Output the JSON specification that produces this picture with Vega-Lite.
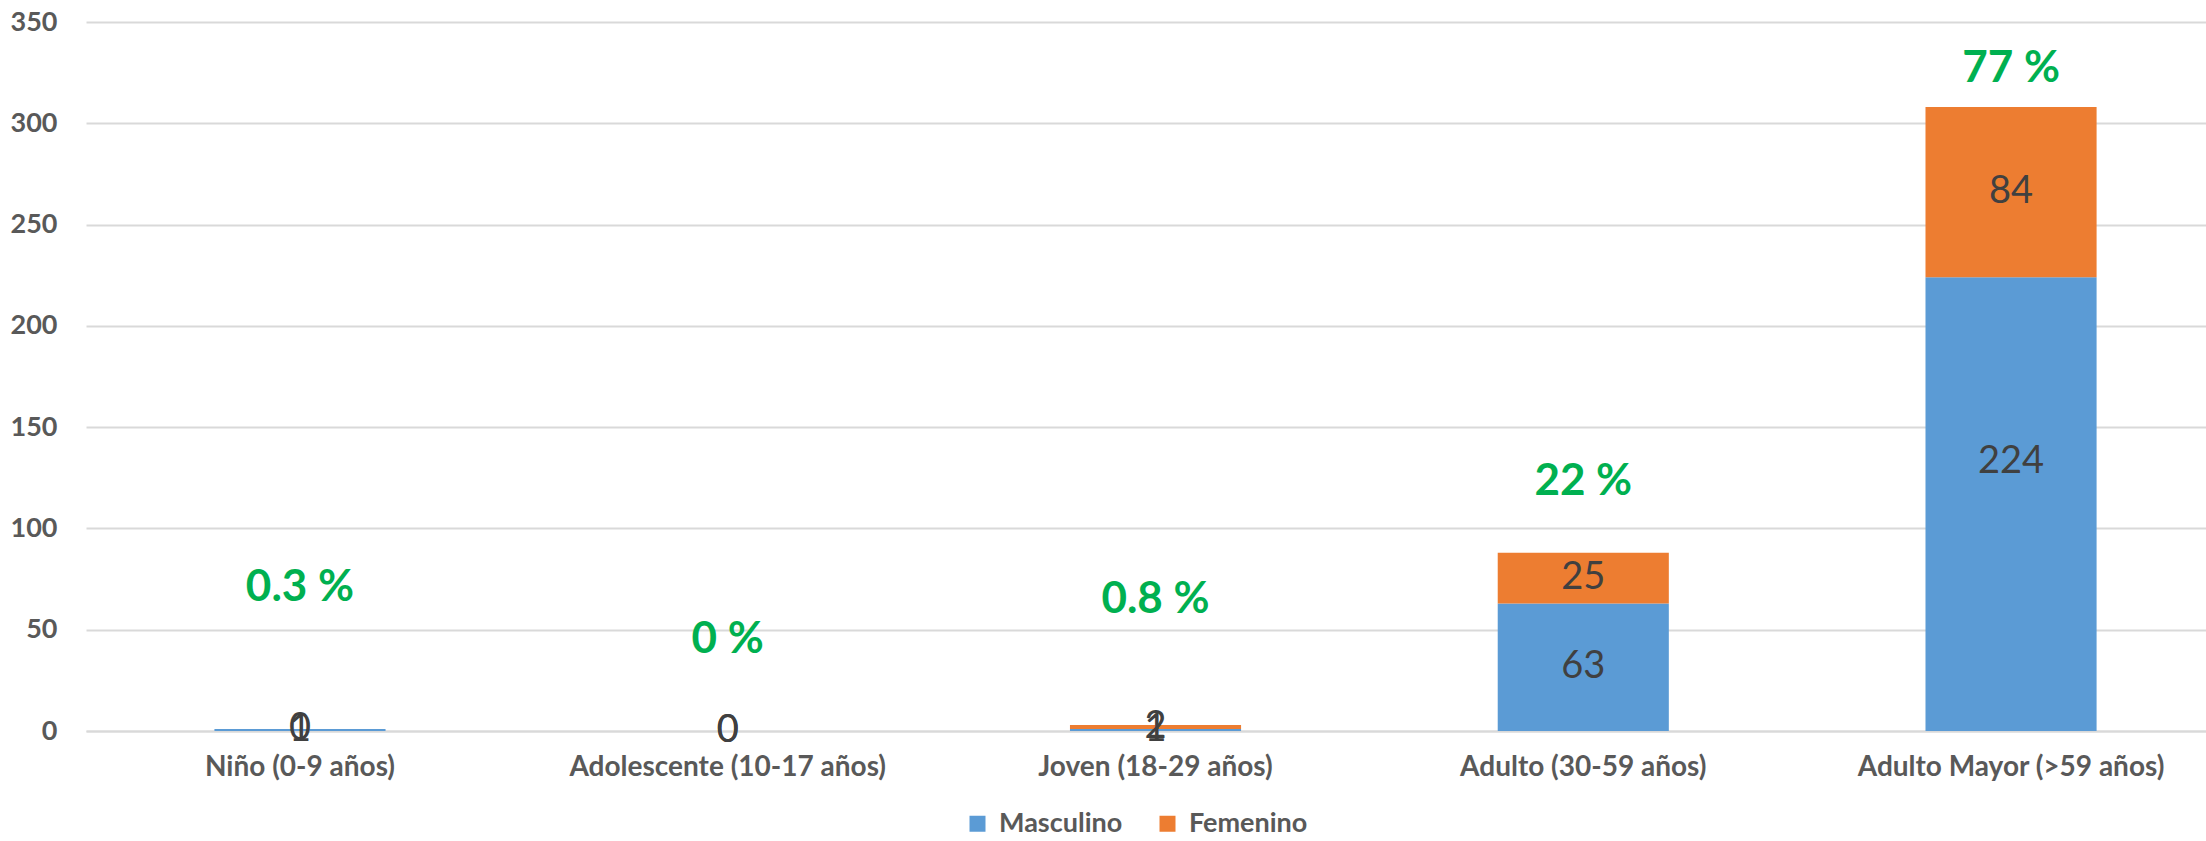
{
  "$schema": "https://vega.github.io/schema/vega-lite/v6.json",
  "autosize": {"type": "none"},
  "padding": {"left": 86, "top": 22, "right": 0, "bottom": 110},
  "width": 2120,
  "height": 709,
  "background": "white",
  "config": {
    "view": {"stroke": null},
    "font": "Lato"
  },
  "datasets": {
    "valores": [
      {"categoria": "Niño (0-9 años)", "sexo": "Masculino", "valor": 1, "y_etiqueta": 0.5},
      {"categoria": "Niño (0-9 años)", "sexo": "Femenino", "valor": 0, "y_etiqueta": 1},
      {"categoria": "Adolescente (10-17 años)", "sexo": "Masculino", "valor": 0, "y_etiqueta": 0},
      {"categoria": "Adolescente (10-17 años)", "sexo": "Femenino", "valor": 0, "y_etiqueta": 0},
      {"categoria": "Joven (18-29 años)", "sexo": "Masculino", "valor": 1, "y_etiqueta": 0.5},
      {"categoria": "Joven (18-29 años)", "sexo": "Femenino", "valor": 2, "y_etiqueta": 2},
      {"categoria": "Adulto (30-59 años)", "sexo": "Masculino", "valor": 63, "y_etiqueta": 31.5},
      {"categoria": "Adulto (30-59 años)", "sexo": "Femenino", "valor": 25, "y_etiqueta": 75.5},
      {"categoria": "Adulto Mayor (>59 años)", "sexo": "Masculino", "valor": 224, "y_etiqueta": 133},
      {"categoria": "Adulto Mayor (>59 años)", "sexo": "Femenino", "valor": 84, "y_etiqueta": 266}
    ],
    "porcentajes": [
      {"categoria": "Niño (0-9 años)", "porcentaje": "0.3 %", "y_etiqueta": 70.6},
      {"categoria": "Adolescente (10-17 años)", "porcentaje": "0 %", "y_etiqueta": 44.9},
      {"categoria": "Joven (18-29 años)", "porcentaje": "0.8 %", "y_etiqueta": 64.7},
      {"categoria": "Adulto (30-59 años)", "porcentaje": "22 %", "y_etiqueta": 122.9},
      {"categoria": "Adulto Mayor (>59 años)", "porcentaje": "77 %", "y_etiqueta": 327}
    ]
  },
  "layer": [
    {
      "data": {"name": "valores"},
      "mark": {"type": "bar"},
      "encoding": {
        "x": {
          "field": "categoria", "type": "nominal", "sort": null,
          "scale": {"paddingInner": 0.6, "paddingOuter": 0.278, "align": 0.54},
          "axis": {
            "title": null, "labelAngle": 0, "ticks": false, "labelLimit": 0,
            "domainColor": "#d9d9d9", "domainWidth": 2,
            "labelFont": "Lato", "labelFontWeight": "bold", "labelFontSize": 28,
            "labelColor": "#595959", "labelPadding": 22
          }
        },
        "y": {
          "field": "valor", "type": "quantitative", "stack": "zero",
          "scale": {"domain": [0, 350], "nice": false},
          "axis": {
            "title": null, "values": [0, 50, 100, 150, 200, 250, 300, 350],
            "domain": false, "ticks": false,
            "gridColor": "#d9d9d9", "gridWidth": 2,
            "labelFont": "Lato", "labelFontWeight": "bold", "labelFontSize": 27,
            "labelColor": "#595959", "labelPadding": 29
          }
        },
        "color": {
          "field": "sexo", "type": "nominal",
          "scale": {"domain": ["Masculino", "Femenino"], "range": ["#5B9BD5", "#ED7D31"]},
          "legend": {
            "title": null, "orient": "none", "direction": "horizontal",
            "legendX": 878, "legendY": 788,
            "symbolType": "square", "symbolSize": 256, "symbolStrokeWidth": 0,
            "labelFont": "Lato", "labelFontWeight": "bold", "labelFontSize": 27,
            "labelColor": "#595959", "labelOffset": 8, "columnPadding": 31,
            "labelLimit": 0
          }
        }
      }
    },
    {
      "data": {"name": "valores"},
      "mark": {"type": "text", "font": "Lato", "fontSize": 38, "color": "#404040", "baseline": "middle", "align": "center"},
      "encoding": {
        "x": {"field": "categoria", "type": "nominal", "sort": null},
        "y": {"field": "y_etiqueta", "type": "quantitative"},
        "text": {"field": "valor", "type": "quantitative"}
      }
    },
    {
      "data": {"name": "porcentajes"},
      "mark": {"type": "text", "font": "Lato", "fontWeight": "bold", "fontSize": 44, "color": "#00B050", "baseline": "middle", "align": "center"},
      "encoding": {
        "x": {"field": "categoria", "type": "nominal", "sort": null},
        "y": {"field": "y_etiqueta", "type": "quantitative"},
        "text": {"field": "porcentaje", "type": "nominal"}
      }
    }
  ]
}
